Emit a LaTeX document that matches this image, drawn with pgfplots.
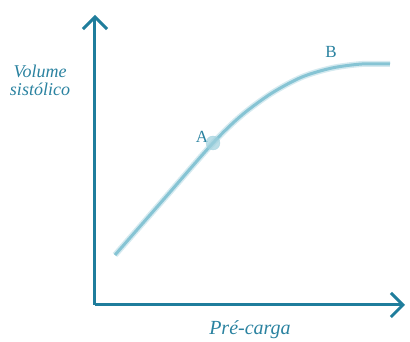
\documentclass[border=0pt]{standalone}
\usepackage{pgfplots}
\pgfplotsset{compat=1.18}
\usetikzlibrary{arrows.meta}
\usepackage{fontspec}
\setmainfont{Liberation Serif}
\definecolor{axc}{HTML}{1F7D9C}
\definecolor{txc}{HTML}{2A82A0}
\definecolor{cvc}{HTML}{86C4D4}
\begin{document}
\begin{tikzpicture}
\useasboundingbox (-95pt,-37pt) rectangle (315pt,305pt);
\begin{axis}[
  at={(0pt,0pt)}, anchor=origin,
  scale only axis, width=310pt, height=290pt,
  xmin=0, xmax=310, ymin=0, ymax=290,
  axis x line=bottom, axis y line=left,
  axis line style={draw=axc, line width=3pt, -{Straight Barb[length=12pt,width=24pt,line width=3pt]}},
  xtick=\empty, ytick=\empty,
  clip=false,
]
\addplot[cvc!35, line width=6pt, smooth, tension=0.5] coordinates {
  (20,50) (69,106) (118,162) (147,190) (177,212) (207,228) (237,237) (267,241) (295,241)
};
\addplot[cvc, line width=3pt, smooth, tension=0.5] coordinates {
  (20,50) (69,106) (118,162) (147,190) (177,212) (207,228) (237,237) (267,241) (295,241)
};
\addplot[only marks, mark=*, mark size=7pt, color=cvc!80, opacity=0.7] coordinates {(118,162)};
\node[txc, font=\fontsize{17}{19}\selectfont] at (axis cs:107,168) {A};
\node[txc, font=\fontsize{17}{19}\selectfont] at (axis cs:236,253) {B};
\node[txc, font=\itshape\fontsize{18}{19}\selectfont, align=center] at (axis cs:-55,225) {Volume\\[-1pt]sistólico};
\node[txc, font=\itshape\fontsize{20}{22}\selectfont] at (axis cs:155,-25) {Pré-carga};
\end{axis}
\end{tikzpicture}
\end{document}
